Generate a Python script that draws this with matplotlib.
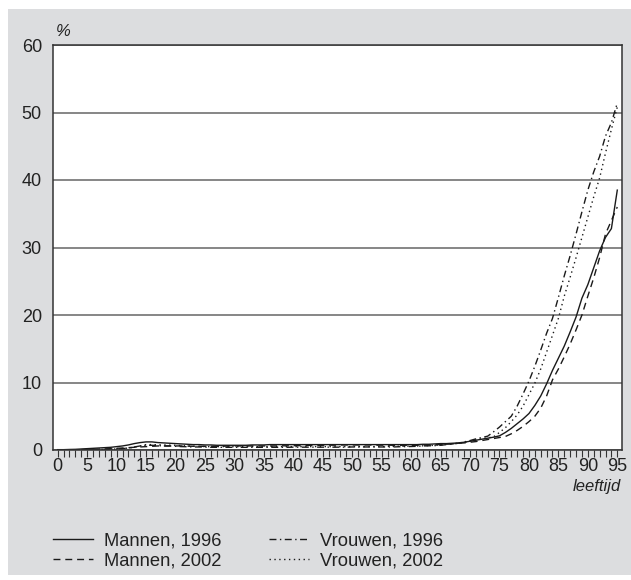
import matplotlib
matplotlib.use("Agg")
import matplotlib.pyplot as plt
import numpy as np
from matplotlib.patches import Rectangle

plt.rcParams['font.family'] = ['Liberation Sans', 'DejaVu Sans']

# leeftijd 0..95
ages = np.arange(0, 96)

man_1996 = [0.05, 0.05, 0.08, 0.1, 0.15, 0.2, 0.25, 0.3, 0.35, 0.4,
            0.5, 0.6, 0.75, 0.95, 1.1, 1.2, 1.2, 1.1, 1.05, 1.0,
            0.95, 0.9, 0.85, 0.8, 0.8, 0.75, 0.75, 0.7, 0.7, 0.7,
            0.7, 0.7, 0.7, 0.75, 0.75, 0.75, 0.8, 0.8, 0.8, 0.8,
            0.8, 0.8, 0.8, 0.8, 0.8, 0.8, 0.8, 0.8, 0.8, 0.8,
            0.8, 0.8, 0.8, 0.8, 0.8, 0.8, 0.8, 0.8, 0.8, 0.8,
            0.8, 0.8, 0.85, 0.85, 0.9, 0.95, 0.95, 1.0, 1.05, 1.15,
            1.3, 1.45, 1.6, 1.75, 1.9, 2.1, 2.6, 3.2, 3.9, 4.6,
            5.4, 6.6, 8.0, 9.8, 11.8, 13.6, 15.4, 17.5, 19.7, 22.5,
            24.5, 27.0, 29.5, 31.5, 32.8, 38.5]

man_2002 = [0.0, 0.0, 0.02, 0.03, 0.05, 0.07, 0.1, 0.12, 0.15, 0.2,
            0.25, 0.3, 0.35, 0.4, 0.45, 0.5, 0.55, 0.6, 0.6, 0.6,
            0.6, 0.6, 0.58, 0.55, 0.55, 0.55, 0.55, 0.55, 0.55, 0.6,
            0.6, 0.6, 0.6, 0.6, 0.6, 0.6, 0.6, 0.6, 0.62, 0.62,
            0.65, 0.65, 0.68, 0.7, 0.7, 0.7, 0.72, 0.72, 0.75, 0.75,
            0.75, 0.75, 0.75, 0.75, 0.72, 0.72, 0.72, 0.7, 0.7, 0.7,
            0.7, 0.7, 0.72, 0.75, 0.78, 0.8, 0.85, 0.9, 1.0, 1.05,
            1.15, 1.25, 1.4, 1.55, 1.7, 1.85, 2.0, 2.4, 2.9, 3.5,
            4.2, 5.0, 6.2, 8.0, 10.4, 12.0, 13.8, 15.7, 17.8, 20.0,
            22.8, 25.5, 28.5, 32.0, 34.0, 36.0]

vrouw_1996 = [0.0, 0.0, 0.02, 0.03, 0.04, 0.05, 0.06, 0.08, 0.1, 0.12,
              0.15, 0.2, 0.3, 0.45, 0.6, 0.7, 0.7, 0.65, 0.6, 0.6,
              0.55, 0.5, 0.48, 0.45, 0.45, 0.42, 0.4, 0.4, 0.4, 0.4,
              0.4, 0.4, 0.4, 0.4, 0.4, 0.4, 0.4, 0.4, 0.4, 0.4,
              0.42, 0.42, 0.42, 0.42, 0.42, 0.42, 0.42, 0.42, 0.42, 0.42,
              0.45, 0.45, 0.45, 0.45, 0.45, 0.45, 0.45, 0.45, 0.48, 0.5,
              0.52, 0.55, 0.6, 0.62, 0.65, 0.7, 0.8, 0.9, 1.0, 1.2,
              1.4, 1.65, 1.85, 2.05, 2.7, 3.4, 4.2, 5.0, 6.5, 8.3,
              10.2, 12.4, 14.8, 17.3, 19.5, 22.6, 25.8, 28.8, 32.0, 35.3,
              38.5, 41.2, 43.5, 46.5, 48.5, 51.4]

vrouw_2002 = [0.0, 0.0, 0.02, 0.03, 0.04, 0.05, 0.06, 0.08, 0.1, 0.12,
              0.15, 0.2, 0.3, 0.4, 0.6, 0.8, 0.8, 0.78, 0.75, 0.72,
              0.7, 0.65, 0.6, 0.55, 0.55, 0.5, 0.5, 0.5, 0.5, 0.5,
              0.5, 0.5, 0.5, 0.5, 0.5, 0.5, 0.5, 0.5, 0.5, 0.5,
              0.5, 0.5, 0.5, 0.5, 0.5, 0.5, 0.5, 0.5, 0.5, 0.5,
              0.5, 0.5, 0.5, 0.5, 0.5, 0.5, 0.55, 0.55, 0.55, 0.55,
              0.6, 0.6, 0.62, 0.65, 0.7, 0.75, 0.85, 0.92, 1.0, 1.15,
              1.3, 1.5, 1.65, 1.8, 1.95, 2.6, 3.3, 4.2, 5.2, 6.5,
              8.2, 9.9, 12.0, 14.5, 17.0, 19.5, 22.8, 25.6, 28.5, 31.5,
              34.5, 37.5, 40.3, 44.0, 47.5, 50.8]

labels = ["Mannen, 1996", "Mannen, 2002", "Vrouwen, 1996", "Vrouwen, 2002"]
yticks = [0, 10, 20, 30, 40, 50, 60]
xticks = list(range(0, 96, 5))

grey = '#dcdddf'
fig = plt.figure(figsize=(6.31, 5.80), dpi=100, facecolor='white')
fig.patches.append(Rectangle((8 / 631, 5 / 580), 623 / 631, 566 / 580,
                             transform=fig.transFigure, facecolor=grey,
                             edgecolor='none', zorder=-10))

ax = fig.add_axes([53 / 631, 130 / 580, 569 / 631, 405 / 580])
ax.set_facecolor('white')

lw = 1.0
ax.plot(ages, man_1996, color='#1a1a1a', lw=lw, ls='-', label=labels[0])
ax.plot(ages, man_2002, color='#1a1a1a', lw=lw, ls=(0, (5, 3.5)), label=labels[1])
ax.plot(ages, vrouw_1996, color='#1a1a1a', lw=lw, ls=(0, (5, 2.5, 1, 2.5)), label=labels[2])
ax.plot(ages, vrouw_2002, color='#1a1a1a', lw=lw, ls=(0, (1, 2.5)), label=labels[3])

ax.set_xlim(-0.8, 95.8)
ax.set_ylim(0, 60)
ax.set_yticks(yticks)
ax.set_xticks(xticks)
ax.set_xticks(ages, minor=True)
ax.tick_params(axis='y', length=0, pad=8, labelsize=13, colors='#222222')
ax.tick_params(axis='x', which='both', direction='out', length=5, width=0.8,
               color='#333333', labelsize=13, labelcolor='#222222', pad=1)
for s in ax.spines.values():
    s.set_color('#333333')
    s.set_linewidth(1.1)
ax.yaxis.grid(True, color='#666666', lw=1.1)
ax.set_axisbelow(True)

fig.text(56 / 631, 1 - 31 / 580, '%', style='italic', fontsize=12,
         color='#222222', ha='left', va='center')
fig.text(621 / 631, 1 - 486 / 580, 'leeftijd', style='italic', fontsize=12,
         color='#222222', ha='right', va='center')

fig.legend(loc='upper left', bbox_to_anchor=(53 / 631, 1 - 532 / 580),
           ncol=2, frameon=False, fontsize=13.2, handlelength=2.2,
           handletextpad=0.6, columnspacing=2.56, labelspacing=0.2,
           borderpad=0, borderaxespad=0, labelcolor='#222222')

plt.savefig("out.png", dpi=100, facecolor=fig.get_facecolor())
